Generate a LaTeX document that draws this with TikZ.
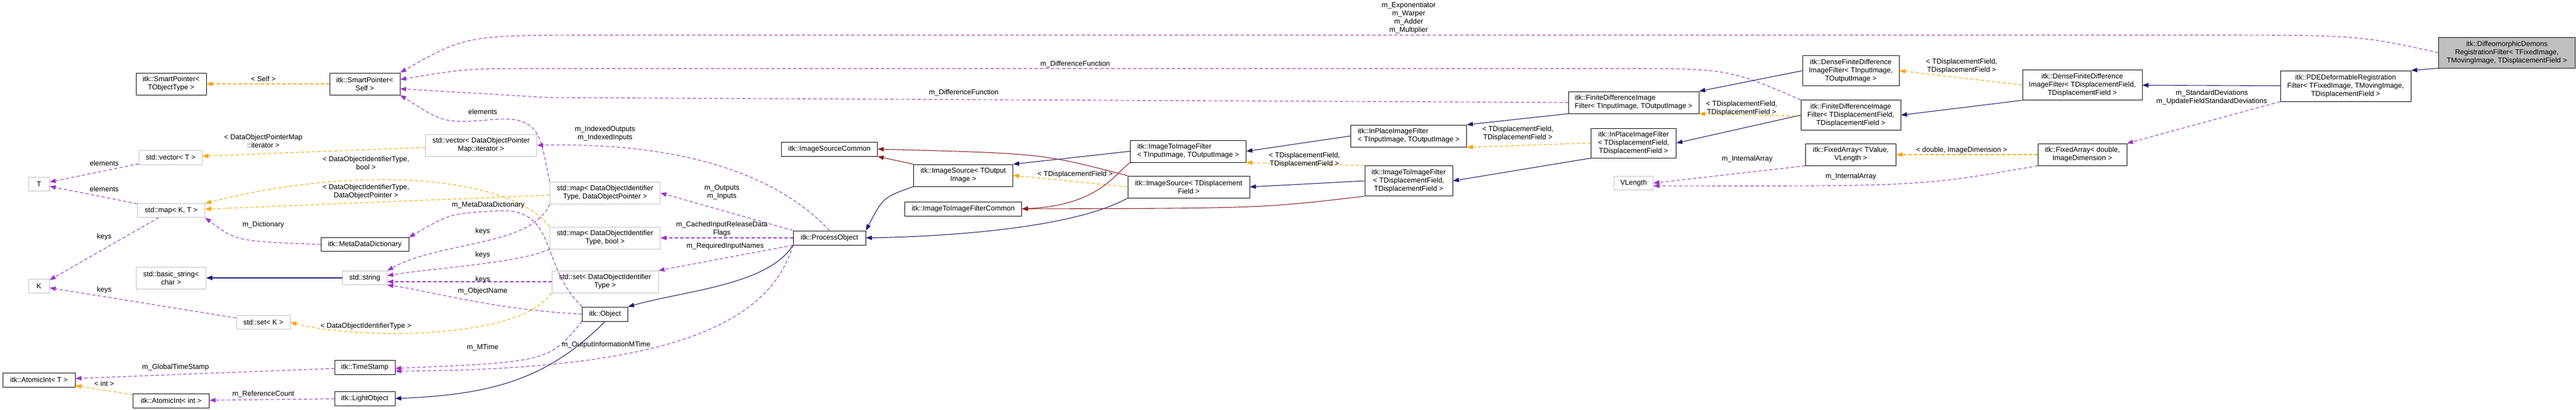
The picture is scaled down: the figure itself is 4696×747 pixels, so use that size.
\documentclass[tikz,border=0pt]{standalone}
\usepackage{fontspec}
\setmainfont{Liberation Sans}
\usetikzlibrary{arrows.meta}
\definecolor{cinh}{HTML}{191970}
\definecolor{cprot}{HTML}{8B1A1A}
\definecolor{cuse}{HTML}{9A32CD}
\definecolor{ctmpl}{HTML}{FFA500}
\begin{document}
\begin{tikzpicture}[x=1pt,y=-1pt,
	box/.style 2 args={draw,rectangle,line width=1pt,inner sep=2pt,align=center,minimum width=#1pt,minimum height=#2pt,font=\fontsize{13}{15}\selectfont},
	ext/.style={draw=black!25},
	lbl/.style={align=center,inner sep=0pt,text=black,font=\fontsize{13}{15}\selectfont},
	tip/.style={-{Triangle[length=11pt,width=8pt]}},
	inh/.style={tip,cinh,line width=1.1pt},
	prot/.style={tip,cprot,line width=1.1pt},
	use/.style={tip,cuse,line width=1.1pt,dash pattern=on 6pt off 4pt},
	tmpl/.style={tip,ctmpl,line width=1.1pt,dash pattern=on 6pt off 4pt}]
		\useasboundingbox (0,0) rectangle (4696,747);
		% left column
		\node[box={128}{40}] (spTO) at (312,153) {itk::SmartPointer<\\ TObjectType >};
		\node[box={128}{40}] (spSelf) at (665,153) {itk::SmartPointer<\\ Self >};
		\node[box={115}{26},ext] (vecT) at (311,287) {std::vector< T >};
		\node[box={38}{25},ext] (T) at (71,336) {T};
		\node[box={123}{25},ext] (mapKT) at (312,384) {std::map< K, T >};
		\node[box={38}{25},ext] (K) at (71,522) {K};
		\node[box={127}{40},ext] (bstr) at (312,507) {std::basic\_string<\\ char >};
		\node[box={81}{25},ext] (str) at (665,507) {std::string};
		\node[box={160}{25}] (mdd) at (665,446) {itk::MetaDataDictionary};
		\node[box={98}{25},ext] (setK) at (480,588) {std::set< K >};
		\node[box={132}{26}] (aiT) at (71,693) {itk::AtomicInt< T >};
		\node[box={139}{26}] (aiInt) at (312,731) {itk::AtomicInt< int >};
		\node[box={110}{26}] (ts) at (665,670) {itk::TimeStamp};
		\node[box={110}{26}] (lo) at (665,727) {itk::LightObject};
		% process object
		\node[box={203}{40},ext] (vecIt) at (877,265) {std::vector< DataObjectPointer\\ Map::iterator >};
		\node[box={201}{40},ext] (mapPtr) at (1103,352) {std::map< DataObjectIdentifier\\ Type, DataObjectPointer >};
		\node[box={201}{40},ext] (mapBool) at (1103,434) {std::map< DataObjectIdentifier\\ Type, bool >};
		\node[box={194}{40},ext] (setId) at (1103,514) {std::set< DataObjectIdentifier\\ Type >};
		\node[box={83}{26}] (obj) at (1103,573) {itk::Object};
		\node[box={175}{26}] (isc) at (1512,272) {itk::ImageSourceCommon};
		\node[box={132}{26}] (po) at (1512,434) {itk::ProcessObject};
		% filters
		\node[box={181}{40}] (isOut) at (1756,320) {itk::ImageSource< TOutput\\ Image >};
		\node[box={213}{26}] (itifc) at (1756,381) {itk::ImageToImageFilterCommon};
		\node[box={211}{40},align=left] (itiIO) at (2166,276) {itk::ImageToImageFilter\\ < TInputImage, TOutputImage >};
		\node[box={222}{40}] (isDisp) at (2167,341) {itk::ImageSource< TDisplacement\\ Field >};
		\node[box={211}{40},align=left] (ipIO) at (2568,248) {itk::InPlaceImageFilter\\ < TInputImage, TOutputImage >};
		\node[box={160}{55}] (itiDD) at (2568,330) {itk::ImageToImageFilter\\ < TDisplacementField,\\ TDisplacementField >};
		\node[box={238}{40},align=left] (fdIO) at (2978,187) {itk::FiniteDifferenceImage\\ Filter< TInputImage, TOutputImage >};
		\node[box={155}{54}] (ipDD) at (2978,261) {itk::InPlaceImageFilter\\ < TDisplacementField,\\ TDisplacementField >};
		\node[box={71}{25},ext] (vlen) at (2978,334) {VLength};
		\node[box={176}{55}] (dfdIO) at (3374,129) {itk::DenseFiniteDifference\\ ImageFilter< TInputImage,\\ TOutputImage >};
		\node[box={182}{55}] (fdDD) at (3374,210) {itk::FiniteDifferenceImage\\ Filter< TDisplacementField,\\ TDisplacementField >};
		\node[box={165}{40}] (faTV) at (3374,282) {itk::FixedArray< TValue,\\ VLength >};
		\node[box={218}{55}] (dfdDD) at (3796,155) {itk::DenseFiniteDifference\\ ImageFilter< TDisplacementField,\\ TDisplacementField >};
		\node[box={162}{40}] (faD) at (3796,282) {itk::FixedArray< double,\\ ImageDimension >};
		\node[box={238}{56}] (pde) at (4276,157) {itk::PDEDeformableRegistration\\ Filter< TFixedImage, TMovingImage,\\ TDisplacementField >};
		\node[box={249}{56},fill=black!25] (tgt) at (4570,96) {itk::DiffeomorphicDemons\\ RegistrationFilter< TFixedImage,\\ TMovingImage, TDisplacementField >};

		% smart pointers
		\draw[tmpl] (spSelf) -- (spTO) node[lbl] at (480,144) {< Self >};
		\draw[use] (tgt.west) .. controls (4300,64) .. (4000,64) -- (1100,64) .. controls (850,64) .. (spSelf.north east) node[lbl] at (2568,33) {m\_Exponentiator\\m\_Warper\\m\_Adder\\m\_Multiplier};
		\draw[use] (fdDD.north west) .. controls (3150,125) .. (2950,125) -- (1000,125) .. controls (850,125) .. (spSelf.east |- 0,145) node[lbl] at (1960,117) {m\_DifferenceFunction};
		\draw[use] (fdIO.west) -- (1000,178) -- (spSelf.east |- 0,162) node[lbl] at (1757,169) {m\_DifferenceFunction};
		\draw[use] (mapPtr.north west) .. controls (985,255) and (990,210) .. (900,218) .. controls (810,225) .. (spSelf.south east) node[lbl] at (880,204) {elements};
		% std containers
		\draw[use] (vecT) -- (T) node[lbl] at (190,298) {elements};
		\draw[use] (mapKT) -- (T) node[lbl] at (190,345) {elements};
		\draw[use] (mapKT) -- (K) node[lbl] at (190,432) {keys};
		\draw[use] (setK) -- (K) node[lbl] at (190,529) {keys};
		\draw[tmpl] (vecIt) -- (vecT) node[lbl] at (480,257) {< DataObjectPointerMap\\::iterator >};
		\draw[tmpl] (mapBool.north west) .. controls (930,320) and (650,300) .. (mapKT.north east) node[lbl] at (667,297) {< DataObjectIdentifierType,\\bool >};
		\draw[tmpl] (mapPtr) -- (mapKT) node[lbl] at (667,350) {< DataObjectIdentifierType,\\DataObjectPointer >};
		\draw[use] (mdd.west) .. controls (430,440) .. (mapKT.south east) node[lbl] at (480,410) {m\_Dictionary};
		\draw[inh] (str) -- (bstr);
		\draw[tmpl] (setId.south west) .. controls (950,620) and (650,620) .. (setK.east) node[lbl] at (667,595) {< DataObjectIdentifierType >};
		\draw[use] (mapPtr.south west) .. controls (970,450) and (800,440) .. (str.north east) node[lbl] at (880,422) {keys};
		\draw[use] (mapBool.south west) .. controls (950,480) and (780,490) .. (str.east |- 0,503) node[lbl] at (880,465) {keys};
		\draw[use] (setId.west) -- (str.east |- 0,514) node[lbl] at (880,510) {keys};
		\draw[use] (obj.west) .. controls (900,565) and (780,530) .. (str.south east) node[lbl] at (880,531) {m\_ObjectName};
		\draw[use] (obj.north west) .. controls (980,480) and (1020,375) .. (900,385) .. controls (820,390) .. (mdd.north east) node[lbl] at (890,374) {m\_MetaDataDictionary};
		% time stamps
		\draw[use] (ts) -- (aiT) node[lbl] at (320,670) {m\_GlobalTimeStamp};
		\draw[tmpl] (aiInt) -- (aiT) node[lbl] at (190,700) {< int >};
		\draw[use] (lo) -- (aiInt) node[lbl] at (480,719) {m\_ReferenceCount};
		\draw[use] (obj.south west) .. controls (1000,660) .. (ts.east |- 0,672) node[lbl] at (880,634) {m\_MTime};
		\draw[use] (po.south west) .. controls (1400,600) and (1200,675) .. (ts.east |- 0,677) node[lbl] at (1105,629) {m\_OutputInformationMTime};
		\draw[inh] (obj.south) .. controls (1000,690) and (900,720) .. (lo.east);
		\draw[inh] (po.south west) .. controls (1400,520) and (1250,530) .. (obj.north east);
		% process object members
		\draw[use] (po.north) .. controls (1400,300) and (1200,260) .. (vecIt.east) node[lbl] at (1103,244) {m\_IndexedOutputs\\m\_IndexedInputs};
		\draw[use] (po.north west) -- (mapPtr.east) node[lbl] at (1316,351) {m\_Outputs\\m\_Inputs};
		\draw[use] (po.west) -- (mapBool.east) node[lbl] at (1316,418) {m\_CachedInputReleaseData\\Flags};
		\draw[use] (po.south west) -- (setId.north east) node[lbl] at (1322,449) {m\_RequiredInputNames};
		% image sources and filters
		\draw[inh] (isOut.south west) .. controls (1610,360) .. (po.north east);
		\draw[prot] (isOut.north west) -- (isc.south east);
		\draw[inh] (isDisp.south west) .. controls (1950,420) and (1700,432) .. (po.east);
		\draw[prot] (isDisp.north west) .. controls (1900,280) .. (isc.east);
		\draw[tmpl] (isDisp.west) -- (isOut.east) node[lbl] at (1960,318) {< TDisplacementField >};
		\draw[inh] (itiIO.west) -- (isOut.north east);
		\draw[prot] (itiIO.south west) .. controls (2030,320) and (2000,375) .. (itifc.east);
		\draw[inh] (itiDD.west) -- (isDisp.east);
		\draw[prot] (itiDD.south west) .. controls (2300,380) .. (itifc.east);
		\draw[tmpl] (itiDD.north west) -- (itiIO.south east) node[lbl] at (2378,292) {< TDisplacementField,\\TDisplacementField >};
		\draw[inh] (ipIO.west) -- (itiIO.east);
		\draw[inh] (ipDD.south west) -- (itiDD.east);
		\draw[tmpl] (ipDD.west) -- (ipIO.south east) node[lbl] at (2767,244) {< TDisplacementField,\\TDisplacementField >};
		\draw[inh] (fdIO.south west) -- (ipIO.north east);
		\draw[inh] (fdDD.west) -- (ipDD.east);
		\draw[tmpl] (fdDD.west |- 0,212) -- (fdIO.south east) node[lbl] at (3175,198) {< TDisplacementField,\\TDisplacementField >};
		\draw[inh] (dfdIO.west) -- (fdIO.north east);
		\draw[inh] (dfdDD.south west) -- (fdDD.east);
		\draw[tmpl] (dfdDD.west) -- (dfdIO.east) node[lbl] at (3576,121) {< TDisplacementField,\\TDisplacementField >};
		% fixed arrays
		\draw[use] (faTV.south west) -- (vlen.east) node[lbl] at (3185,290) {m\_InternalArray};
		\draw[use] (faD.south west) .. controls (3500,340) .. (vlen.east |- 0,339) node[lbl] at (3374,322) {m\_InternalArray};
		\draw[tmpl] (faD) -- (faTV) node[lbl] at (3576,274) {< double, ImageDimension >};
		\draw[inh] (pde) -- (dfdDD);
		\draw[use] (pde.south west) -- (faD.north east) node[lbl] at (4032,178) {m\_StandardDeviations\\m\_UpdateFieldStandardDeviations};
		\draw[inh] (tgt.south west) -- (pde.north east);
\end{tikzpicture}
\end{document}
